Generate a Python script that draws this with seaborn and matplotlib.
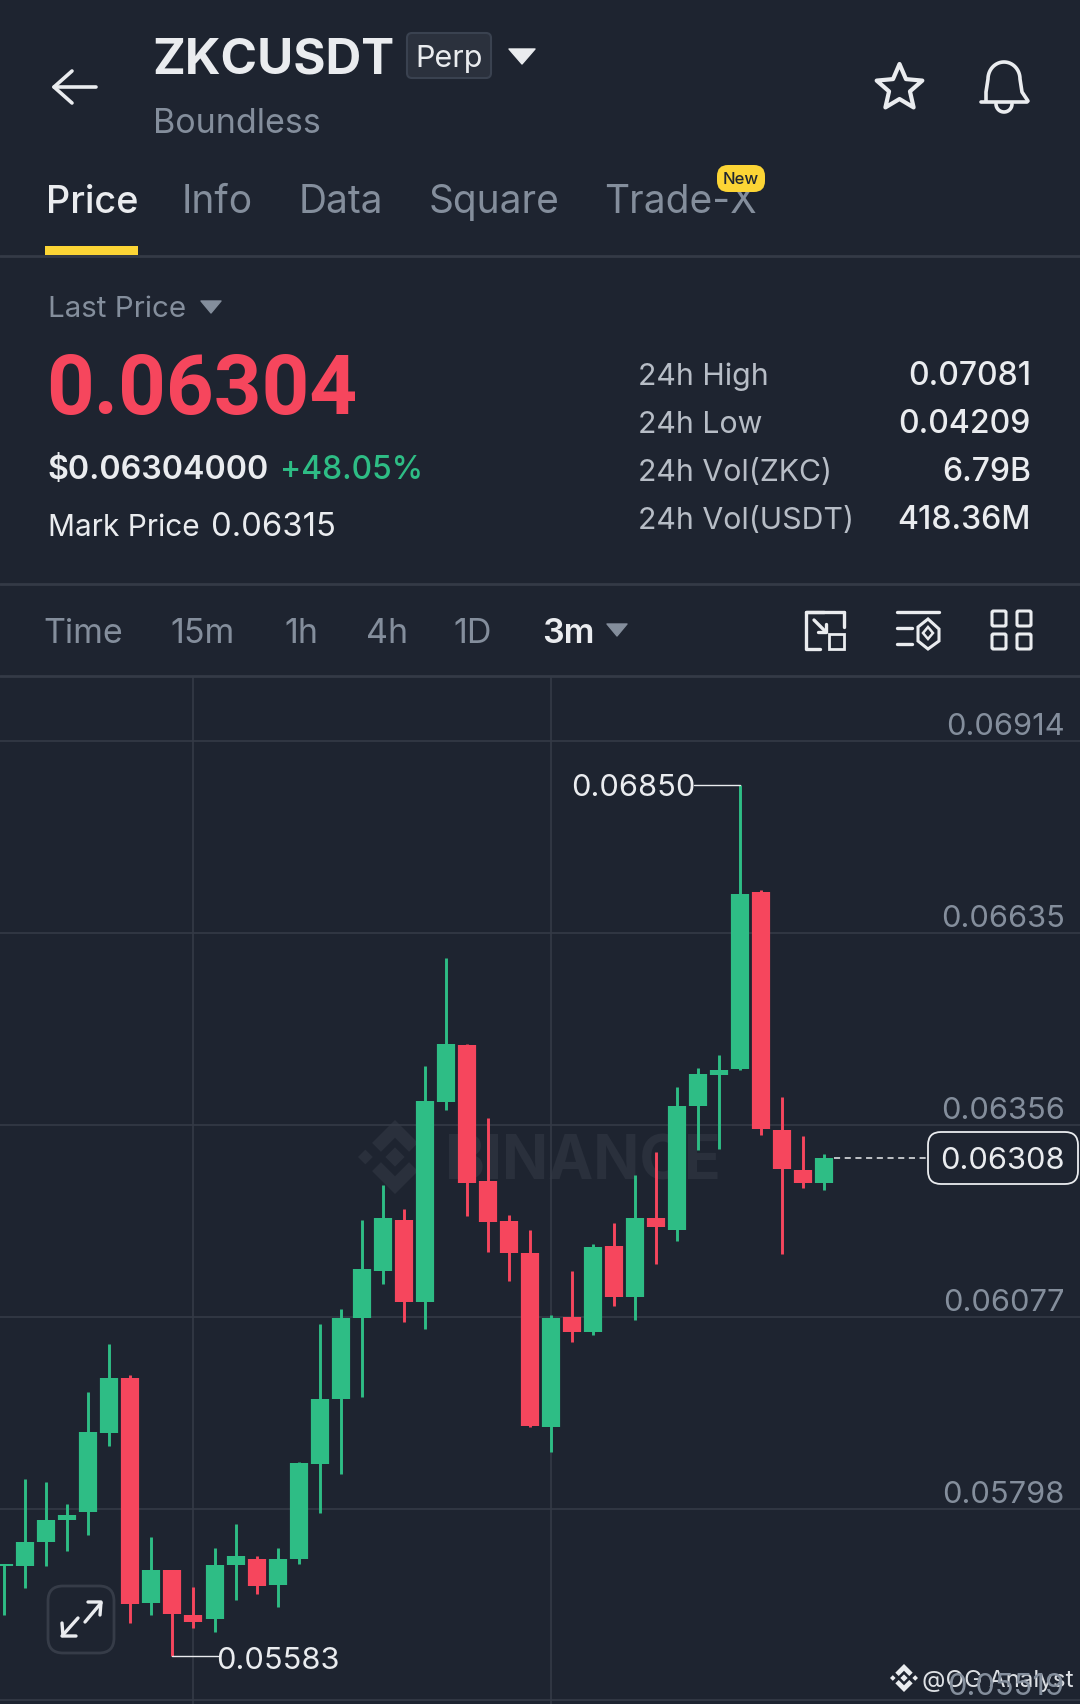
import numpy as np
import pandas as pd
import matplotlib
matplotlib.use('Agg')
import matplotlib.pyplot as plt
import seaborn as sns
from matplotlib.patches import FancyBboxPatch, Polygon, Rectangle

# candles, oldest first (prices)
highs = [0.05718, 0.05841, 0.05837, 0.05804, 0.05968, 0.06037, 0.05992, 0.05757, 0.05708, 0.05684,
         0.05740, 0.05776, 0.05729, 0.05740, 0.05866, 0.06067, 0.06088, 0.06218, 0.06269, 0.06233,
         0.06442, 0.06599, 0.06474, 0.06366, 0.06225, 0.06203, 0.06080, 0.06144, 0.06183, 0.06213,
         0.06283, 0.06317, 0.06411, 0.06439, 0.06458, 0.06850, 0.06698, 0.06396, 0.06339, 0.06313]
lows = [0.05643, 0.05682, 0.05714, 0.05736, 0.05759, 0.05889, 0.05632, 0.05644, 0.05583, 0.05625,
        0.05619, 0.05665, 0.05674, 0.05655, 0.05718, 0.05791, 0.05849, 0.05960, 0.06125, 0.06069,
        0.06059, 0.06378, 0.06224, 0.06171, 0.06129, 0.05916, 0.05881, 0.06040, 0.06050, 0.06093,
        0.06072, 0.06153, 0.06187, 0.06320, 0.06321, 0.06436, 0.06341, 0.06168, 0.06264, 0.06261]
opens = [0.05714, 0.05715, 0.05749, 0.05782, 0.05793, 0.05908, 0.05988, 0.05661, 0.05708, 0.05643,
         0.05637, 0.05716, 0.05724, 0.05687, 0.05724, 0.05863, 0.05958, 0.06075, 0.06143, 0.06218,
         0.06099, 0.06389, 0.06472, 0.06274, 0.06216, 0.06170, 0.05917, 0.06076, 0.06055, 0.06180,
         0.06105, 0.06221, 0.06203, 0.06383, 0.06428, 0.06437, 0.06695, 0.06348, 0.06291, 0.06272]
closes = [0.05718, 0.05750, 0.05782, 0.05789, 0.05909, 0.05988, 0.05659, 0.05708, 0.05645, 0.05633,
          0.05716, 0.05729, 0.05686, 0.05724, 0.05864, 0.05957, 0.06075, 0.06146, 0.06220, 0.06099,
          0.06391, 0.06473, 0.06272, 0.06214, 0.06170, 0.05918, 0.06075, 0.06055, 0.06178, 0.06105,
          0.06221, 0.06207, 0.06383, 0.06430, 0.06436, 0.06692, 0.06350, 0.06292, 0.06272, 0.06308]

price_ticks = [0.06914, 0.06635, 0.06356, 0.06077, 0.05798, 0.05519]
grid_candles = [9, 26]
last_price = 0.06308
high_mark = 0.06850
low_mark = 0.05583

tabs = ['Price', 'Info', 'Data', 'Square', 'Trade-X']
tab_x = [46, 182, 299, 429, 604]
periods = ['Time', '15m', '1h', '4h', '1D', '3m']
period_x = [43, 170, 284, 366, 453, 542]
stat_names = ['24h High', '24h Low', '24h Vol(ZKC)', '24h Vol(USDT)']
stat_values = ['0.07081', '0.04209', '6.79B', '418.36M']
stat_y = [385, 433, 481, 529]

BG = '#1E2430'
LINE = '#343A46'
WHITE = '#EAECEF'
GREY = '#848E9C'
LGREY = '#B7BDC6'
GREEN = '#2EBD85'
RED = '#F6465D'
YELLOW = '#FCD535'

sns.set_theme(style='dark', rc={'figure.facecolor': BG, 'axes.facecolor': BG})
plt.rcParams['font.family'] = ['Inter', 'DejaVu Sans']

W, H = 1080, 1704
fig = plt.figure(figsize=(W / 100, H / 100), dpi=100)

# screen layer in pixel coordinates
ui = fig.add_axes([0, 0, 1, 1], zorder=0)
ui.set_xlim(0, W)
ui.set_ylim(H, 0)
ui.axis('off')


def txt(x, y, s, size, color=WHITE, weight='normal', ha='left', va='baseline', family=None):
    ui.text(x, y, s, fontsize=size, color=color, fontweight=weight, ha=ha, va=va, family=family)


def tri(cx, top, w, h, color):
    ui.add_patch(Polygon([(cx - w / 2, top), (cx + w / 2, top), (cx, top + h)], closed=True,
                         fc=color, ec=color, lw=1, joinstyle='round'))


def seg(xs, ys, color=WHITE, lw=2.4):
    ui.plot(xs, ys, color=color, lw=lw, solid_capstyle='round', solid_joinstyle='round')


def logo(cx, cy, r, color):
    # binance mark: centre + side dots + chevrons top and bottom
    def diamond(x, y, d):
        ui.add_patch(Polygon([(x, y - d), (x + d, y), (x, y + d), (x - d, y)], fc=color, ec='none'))
    diamond(cx, cy, r * 0.26)
    diamond(cx - r * 0.8, cy, r * 0.2)
    diamond(cx + r * 0.8, cy, r * 0.2)
    for s in (-1, 1):
        ui.add_patch(Polygon([(cx, cy + s * r), (cx + r * 0.62, cy + s * r * 0.38),
                              (cx + r * 0.38, cy + s * r * 0.14), (cx, cy + s * r * 0.52),
                              (cx - r * 0.38, cy + s * r * 0.14), (cx - r * 0.62, cy + s * r * 0.38)],
                             fc=color, ec='none'))


# top bar
seg([54, 96], [87, 87], lw=2.6)
seg([72, 54, 72], [71, 87, 103], lw=2.6)
txt(152, 73, 'ZKCUSDT', 35.6, weight='bold')
ui.add_patch(FancyBboxPatch((407, 33), 84, 45, boxstyle='round,pad=0,rounding_size=5',
                            fc='#2B313D', ec='#3A4250', lw=1.5))
txt(449, 67, 'Perp', 22, ha='center')
tri(522, 49, 26, 15, WHITE)
txt(153, 133, 'Boundless', 24.5, color=GREY)

# star
ang = np.pi / 2 + np.arange(10) * np.pi / 5
rad = np.where(np.arange(10) % 2 == 0, 24, 11)
ui.add_patch(Polygon(np.c_[899.5 + rad * np.cos(ang), 88 - rad * np.sin(ang)], closed=True,
                     fc='none', ec=WHITE, lw=3, joinstyle='round'))
# bell
t = np.linspace(np.pi, 0, 30)
bell_x = np.r_[986, 986, 1004 + 16 * np.cos(t), 1022, 1028]
bell_y = np.r_[101, 92, 79 + 17 * -np.sin(t), 92, 101]
seg(bell_x, bell_y, lw=2.6)
seg([981, 1027], [102, 102], lw=2.6)
t = np.linspace(np.pi, 2 * np.pi, 20)
seg(1004 + 8 * np.cos(t), 104 + 8 * np.sin(t) * -1, lw=2.6)

# tabs
for i, (name, x) in enumerate(zip(tabs, tab_x)):
    txt(x, 213, name, 27.3 if i == 0 else 28, color=WHITE if i == 0 else GREY, weight='medium' if i == 0 else 'normal')
ui.add_patch(Rectangle((45, 246), 93, 9, fc=YELLOW, ec='none'))
ui.add_patch(FancyBboxPatch((717, 165), 48, 27, boxstyle='round,pad=0,rounding_size=11', fc=YELLOW, ec='none', zorder=3))
ui.text(741, 179, 'New', fontsize=12, color='#202630', fontweight='medium', ha='center', va='center', zorder=4)
ui.plot([0, W], [256, 256], color=LINE, lw=2)

# price block
txt(48, 317, 'Last Price', 21.3, color=GREY)
tri(211, 301, 20, 12, GREY)
txt(46, 414, '0.06304', 60, color=RED, weight='bold', family='Roboto')
txt(47, 479, '$0.06304000', 23.2, weight='semibold')
txt(280, 479, '+48.05%', 22.8, color=GREEN, weight='medium')
txt(48, 536, 'Mark Price', 21.5)
txt(211, 536, '0.06315', 23.6)
for name, val, y in zip(stat_names, stat_values, stat_y):
    txt(638, y, name, 21.8, color=LGREY)
    txt(1031, y, val, 23, weight='medium', ha='right')
ui.plot([0, W], [584, 584], color=LINE, lw=2)

# period row
for i, (name, x) in enumerate(zip(periods, period_x)):
    sel = name == '3m'
    txt(x, 643, name, 24.5, color=WHITE if sel else GREY, weight='semibold' if sel else 'normal')
tri(617, 624, 20, 12, GREY)

# period row icons
seg([824, 806, 806, 820], [612, 612, 649, 649], lw=2.4)
seg([844, 844], [612, 627], lw=2.4)
seg([806, 844], [612, 612], lw=2.4)
seg([814, 826], [620, 632], lw=2.4)
seg([818, 826, 826], [632, 632, 624], lw=2.4)
ui.add_patch(Rectangle((829, 634), 15, 15, fc='none', ec=WHITE, lw=2))
seg([897, 939], [612, 612], lw=2.4)
seg([897, 912], [628, 628], lw=2.4)
seg([897, 912], [644, 644], lw=2.4)
ui.add_patch(Polygon([(928, 619), (939, 629), (939, 641), (928, 649), (918, 641), (918, 627)],
                     fc='none', ec=WHITE, lw=2.2))
ui.add_patch(Polygon([(928, 627), (933, 633), (928, 639), (923, 633)], fc='none', ec=WHITE, lw=1.8))
for x0 in (992, 1017):
    for y0 in (611, 634):
        ui.add_patch(FancyBboxPatch((x0, y0), 14, 15, boxstyle='round,pad=0,rounding_size=1.5',
                                    fc='none', ec=WHITE, lw=2.2))
ui.plot([0, W], [676, 676], color=LINE, lw=2)

# watermark under the candles
logo(395, 1157, 37, '#2A303C')
txt(445, 1180, 'BINANCE', 43.5, color='#2A303C', weight='bold')

# expand button
ui.add_patch(FancyBboxPatch((48, 1586), 66, 67, boxstyle='round,pad=0,rounding_size=15',
                            fc='none', ec='#363C48', lw=2))
seg([85, 101], [1622, 1603], lw=2.4)
seg([88, 101, 100], [1602, 1602, 1615], lw=2.4)
seg([78, 62], [1618, 1636], lw=2.4)
seg([62, 63, 76], [1623, 1636, 1636], lw=2.4)

# footer credit
logo(904, 1678, 14, WHITE)
txt(922, 1687, '@OG Analyst', 17.4, color='#DDE0E4')

# price chart
df = pd.DataFrame({'idx': np.arange(len(opens)), 'open': opens, 'close': closes, 'high': highs, 'low': lows})
df['direction'] = np.where(df['close'] >= df['open'], 'up', 'down')
wicks = df.melt(id_vars=['idx', 'direction'], value_vars=['high', 'low'], value_name='price')
bodies = df.melt(id_vars=['idx', 'direction'], value_vars=['open', 'close'], value_name='price')
palette = {'up': GREEN, 'down': RED}

ax = fig.add_axes([0, 0, 1, (H - 676) / H], zorder=1)
ax.patch.set_alpha(0)
sns.lineplot(data=wicks, x='idx', y='price', hue='direction', units='idx', estimator=None, palette=palette,
             linewidth=2.1, legend=False, ax=ax, solid_capstyle='butt')
sns.lineplot(data=bodies, x='idx', y='price', hue='direction', units='idx', estimator=None, palette=palette,
             linewidth=13.1, legend=False, ax=ax, solid_capstyle='butt')
ax.set_xlim(-0.2046, 51.17)
ax.set_ylim(0.055139, 0.070085)
ax.set_xticks(grid_candles)
ax.set_yticks(price_ticks)
ax.grid(True, color=LINE, lw=1.2)
ax.set_axisbelow(True)
ax.tick_params(length=0, labelleft=False, labelbottom=False)
ax.set_xlabel('')
ax.set_ylabel('')
for s in ax.spines.values():
    s.set_visible(False)

# price labels sit just over their grid lines
for p in price_ticks:
    ax.annotate(f'{p:.5f}', xy=(1, p), xycoords=ax.get_yaxis_transform(), xytext=(-11, 4.2),
                textcoords='offset points', ha='right', va='baseline', fontsize=22.2, color=GREY)

# high / low marks
hi_i = highs.index(high_mark)
lo_i = lows.index(low_mark)
ax.plot([hi_i, hi_i - 2.2], [high_mark, high_mark], color=WHITE, lw=1)
ax.annotate(f'{high_mark:.5f}', xy=(hi_i - 2.2, high_mark), xytext=(1, 0), textcoords='offset points',
            ha='right', va='center_baseline', fontsize=22.2, color=WHITE)
ax.plot([lo_i, lo_i + 2.15], [low_mark, low_mark], color=WHITE, lw=1)
ax.annotate(f'{low_mark:.5f}', xy=(lo_i + 2.15, low_mark), xytext=(-1.4, -1), textcoords='offset points',
            ha='left', va='center_baseline', fontsize=22.2, color=WHITE)

# last price tag
ax.plot([len(opens) - 1 + 0.45, 43.9], [last_price, last_price], color=WHITE, lw=1.1, dashes=(4, 3))
ui.add_patch(FancyBboxPatch((928, 1132), 150, 52, boxstyle='round,pad=0,rounding_size=13',
                            fc=BG, ec=WHITE, lw=1.3, zorder=5))
ax.annotate(f'{last_price:.5f}', xy=(1, last_price), xycoords=ax.get_yaxis_transform(), xytext=(-11, 0),
            textcoords='offset points', ha='right', va='center_baseline', fontsize=22.2, color=WHITE, zorder=6)

fig.savefig('out.png', dpi=100, facecolor=BG)
plt.close(fig)
print('Done')
